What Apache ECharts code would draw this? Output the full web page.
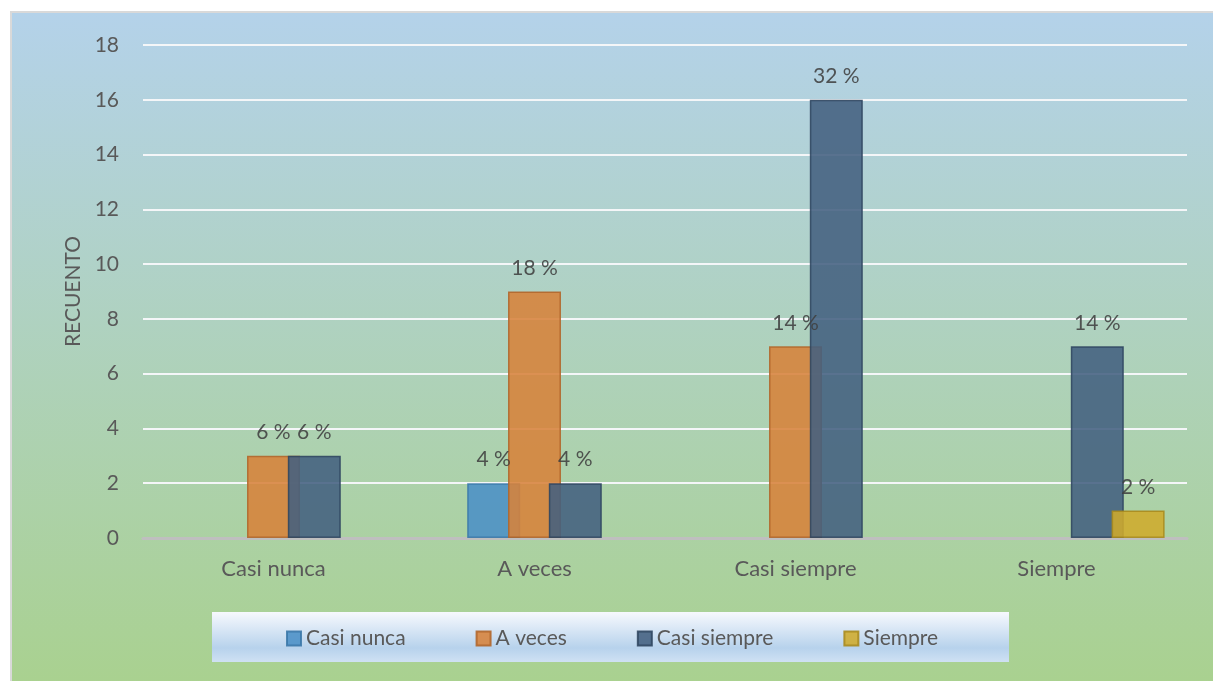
<!DOCTYPE html>
<html>
<head>
<meta charset="utf-8">
<script src="https://cdn.jsdelivr.net/npm/echarts@6/dist/echarts.min.js"></script>
<style>
  html, body { margin: 0; padding: 0; background: #ffffff; }
  #myChart { width: 1213px; height: 681px; }
</style>
</head>
<body>
<div id="myChart"></div>
<script>
// datos
let categorias = ['Casi nunca', 'A veces', 'Casi siempre', 'Siempre']
let casiNunca = [0, 2, 0, 0]
let aVeces = [3, 9, 7, 0]
let casiSiempre = [3, 2, 16, 7]
let siempre = [0, 0, 0, 1]
let yTicks = [0, 2, 4, 6, 8, 10, 12, 14, 16, 18]

let total = [casiNunca, aVeces, casiSiempre, siempre]
    .reduce((s, arr) => s + arr.reduce((a, b) => a + b, 0), 0)

let font = 'Lato, "Noto Sans", sans-serif'

function barSerie(name, data, color, border) {
    return {
        name: name,
        type: 'bar',
        barWidth: 53,
        barGap: '-23%',
        data: data.map(v => v === 0 ? '-' : v),
        itemStyle: {
            color: color,
            opacity: 0.88,
            borderColor: border,
            borderWidth: 1.5
        },
        label: {
            show: true,
            position: 'top',
            distance: 13,
            color: '#404040',
            fontFamily: font,
            fontSize: 21,
            formatter: p => Math.round(p.value / total * 100) + ' %'
        }
    }
}

let myChart = echarts.init(document.getElementById('myChart'))
myChart.setOption({
    backgroundColor: '#ffffff',
    animation: false,
    graphic: [
        {
            type: 'rect',
            z: -10,
            shape: {x: 11, y: 12, width: 1210, height: 680},
            style: {
                fill: new echarts.graphic.LinearGradient(0, 0, 0, 1, [
                    {offset: 0, color: '#b4d2ea'},
                    {offset: 1, color: '#a9d18e'}
                ]),
                stroke: '#d9d9d9',
                lineWidth: 2
            }
        },
        {
            type: 'rect',
            z: -5,
            shape: {x: 212, y: 612, width: 797, height: 50},
            style: {
                fill: new echarts.graphic.LinearGradient(0, 0, 0, 1, [
                    {offset: 0, color: '#f7f9fe'},
                    {offset: 0.72, color: '#b7d2ec'},
                    {offset: 1, color: '#cfe1f3'}
                ])
            }
        }
    ],
    grid: {left: 143, right: 26, top: 45, bottom: 143},
    legend: {
        data: ['Casi nunca', 'A veces', 'Casi siempre', 'Siempre'],
        left: 281,
        top: 623,
        icon: 'rect',
        itemWidth: 14,
        itemHeight: 14,
        itemGap: 70,
        textStyle: {color: '#595959', fontFamily: font, fontSize: 21}
    },
    xAxis: {
        type: 'category',
        data: categorias,
        axisLine: {lineStyle: {color: '#bfbfbf', width: 3}},
        axisTick: {show: false},
        axisLabel: {color: '#595959', fontFamily: font, fontSize: 22, margin: 20}
    },
    yAxis: {
        type: 'value',
        min: yTicks[0],
        max: yTicks[yTicks.length - 1],
        interval: yTicks[1] - yTicks[0],
        name: 'RECUENTO',
        nameLocation: 'middle',
        nameGap: 58,
        nameTextStyle: {color: '#595959', fontFamily: font, fontSize: 21},
        axisLine: {show: false},
        axisTick: {show: false},
        axisLabel: {color: '#595959', fontFamily: font, fontSize: 21, margin: 24},
        splitLine: {lineStyle: {color: '#f4f6f8', width: 2}}
    },
    series: [
        // serie vacia para desplazar el grupo de barras como en el original
        {name: '', type: 'bar', barWidth: 53, barGap: '-23%', data: categorias.map(() => '-')},
        barSerie('Casi nunca', casiNunca, '#4b90c6', '#3a78a8'),
        barSerie('A veces', aVeces, '#d7823a', '#b0652a'),
        barSerie('Casi siempre', casiSiempre, '#43607f', '#2f4660'),
        barSerie('Siempre', siempre, '#cfab2c', '#a88a1c')
    ]
})
</script>
</body>
</html>
